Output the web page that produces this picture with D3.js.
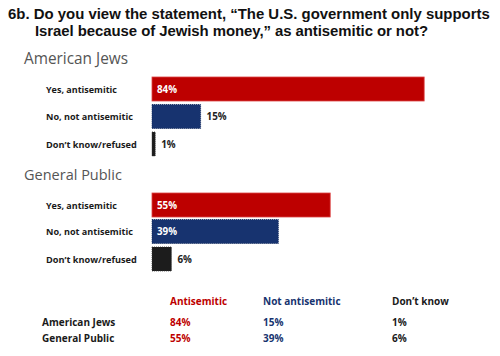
<!DOCTYPE html>
<html><head><meta charset="utf-8">
<script src="https://cdn.jsdelivr.net/npm/d3@7"></script>
<style>
body{margin:0;background:#fff;}
svg{display:block;font-family:"Open Sans","DejaVu Sans",sans-serif;}
</style></head>
<body><svg id="c" width="500" height="356"></svg>
<script>
const titleLines = ["6b. Do you view the statement, \u201cThe U.S. government only supports", "Israel because of Jewish money,\u201d as antisemitic or not?"];
const groups = ["American Jews", "General Public"];
const responses = ["Yes, antisemitic", "No, not antisemitic", "Don\u2019t know/refused"];
const americanJews = [84, 15, 1];
const generalPublic = [55, 39, 6];
const tableHeaders = ["Antisemitic", "Not antisemitic", "Don\u2019t know"];
const colors = ["#bd0000", "#17336f", "#1c1c1c"];

const svg = d3.select("#c");
const x = d3.scaleLinear().domain([0, 100]).range([152, 476]);

// size a text so its natural width matches target (within limits)
function fitSize(sel, w, base, maxS){
  sel.each(function(){
    const l = this.getComputedTextLength();
    if (l > 0){ let s = base * w / l; if (maxS) s = Math.min(s, maxS); d3.select(this).attr("font-size", s); }
  });
}

// title
const titleFont = "'Liberation Sans', Arial, sans-serif";
const t1 = svg.append("text").attr("x", 8).attr("y", 19).attr("font-family", titleFont).attr("font-size", 15).attr("font-weight", 700).attr("fill", "#111").text(titleLines[0]);
fitSize(t1, 482, 15, 15.5);
const tSize = +t1.attr("font-size");
const t2 = svg.append("text").attr("x", 35).attr("y", 36).attr("font-family", titleFont).attr("font-size", tSize).attr("font-weight", 700).attr("fill", "#111").text(titleLines[1]);
t2.each(function(){ const l=this.getComputedTextLength(); if (l>0) d3.select(this).attr("textLength", 393).attr("lengthAdjust","spacing"); });

const groupData = [americanJews, generalPublic];
const headerY = [63.5, 180];
const barTops = [[77, 104.5, 132], [193, 219.5, 247]];
const barH = 24;

groups.forEach((g, gi) => {
  const h = svg.append("text").attr("x", 24).attr("y", headerY[gi]).attr("font-size", 14.5).attr("fill", "#555").text(g);
  fitSize(h, gi === 0 ? 104 : 98, 14.5, 16);
  const vals = groupData[gi];
  vals.forEach((v, i) => {
    const y0 = barTops[gi][i];
    const lab = svg.append("text").attr("x", 46).attr("y", y0 + barH/2 + 3.5).attr("font-size", 9.5).attr("font-weight", 700).attr("fill", "#1a1a1a").text(responses[i]);
    fitSize(lab, [71, 87, 91][i], 9.5, 10.5);
    svg.append("rect").attr("x", x(0)).attr("y", y0).attr("width", Math.max(x(v) - x(0), 2.5)).attr("height", barH)
      .attr("fill", colors[i]).attr("stroke", i===0 ? "#d44" : (i===1 ? "#0d2457" : "#333")).attr("stroke-width", 0.8).attr("stroke-dasharray", i===0 ? null : "1,1");
    const inside = (x(v) - x(0)) > 100;
    svg.append("text").attr("x", inside ? x(0) + 5 : x(v) + 6).attr("y", y0 + barH/2 + 3.5)
      .attr("font-size", 9.8).attr("font-weight", 700).attr("fill", inside ? "#fff" : "#222").text(v + "%");
  });
});

// table
const colX = [170, 263, 392];
const tableColors = ["#bd0000", "#17336f", "#1a1a1a"];
tableHeaders.forEach((h, i) => {
  svg.append("text").attr("x", colX[i]).attr("y", 305).attr("font-size", 10).attr("font-weight", 700).attr("fill", tableColors[i]).text(h);
});
const rowY = [326, 342];
groups.forEach((g, gi) => {
  svg.append("text").attr("x", 42).attr("y", rowY[gi]).attr("font-size", 10).attr("font-weight", 700).attr("fill", "#1a1a1a").text(g);
  groupData[gi].forEach((v, i) => {
    svg.append("text").attr("x", colX[i]).attr("y", rowY[gi]).attr("font-size", 10).attr("font-weight", 700).attr("fill", tableColors[i]).text(v + "%");
  });
});
</script></body></html>
